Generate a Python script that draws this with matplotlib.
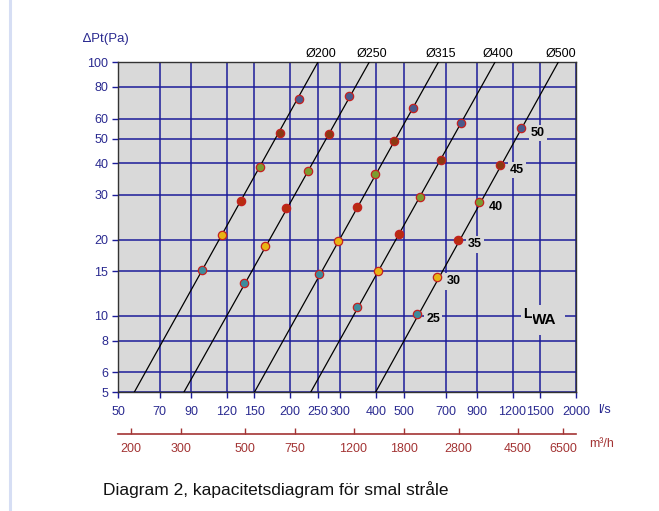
import numpy as np
import matplotlib.pyplot as plt
from matplotlib.lines import Line2D
from matplotlib.ticker import FixedLocator, NullLocator, FixedFormatter

plt.rcParams['font.family'] = ['Liberation Sans', 'DejaVu Sans']

# duct sizes and their straight lines (flow l/s at 5 Pa and at 100 Pa)
diameters = ['Ø200', 'Ø250', 'Ø315', 'Ø400', 'Ø500']
flow_at_5 = [57, 85, 150, 236, 398]
flow_at_100 = [250, 378, 660, 1041, 1733]

# sound power levels marked on every line
lwa_levels = [25, 30, 35, 40, 45, 50]
lwa_colors = ['#3d8c9c', '#e8b414', '#b82c10', '#7c9c30', '#8a3a12', '#4a5a8c']

# dot positions per duct: flow (l/s) and pressure (Pa), one per LWA level
dot_flow = [
    [98.6, 115.2, 134.6, 157.3, 183.9, 214.9],
    [138.3, 163.7, 193.9, 230.4, 272.9, 322.0],
    [252.2, 294.8, 341.9, 396.2, 461.6, 536.9],
    [343.6, 404.9, 479.3, 567.9, 672.6, 793.9],
    [554.3, 654.2, 775.0, 917.3, 1084.0, 1284.0],
]
dot_pressure = [
    [15.2, 20.8, 28.4, 38.7, 52.7, 71.9],
    [13.5, 18.9, 26.6, 37.3, 52.3, 73.5],
    [14.7, 19.8, 26.8, 36.3, 49.1, 66.1],
    [10.8, 15.1, 21.1, 29.5, 41.2, 57.7],
    [10.2, 14.3, 20.0, 28.1, 39.3, 54.9],
]

x_ticks = [50, 70, 90, 120, 150, 200, 250, 300, 400, 500, 700, 900, 1200, 1500, 2000]
y_ticks = [5, 6, 8, 10, 15, 20, 30, 40, 50, 60, 80, 100]
m3h_ticks = [200, 300, 500, 750, 1200, 1800, 2800, 4500, 6500]

navy = '#1c1c9a'
label_blue = '#2a2a90'
dark_red = '#a33434'
bg = '#d9d9d9'

fig = plt.figure(figsize=(6.59, 5.11), dpi=100)
ax = fig.add_axes([0.179, 0.2323, 0.695, 0.6457])
ax.set_facecolor(bg)
ax.set_xscale('log')
ax.set_yscale('log')
ax.set_xlim(50, 2000)
ax.set_ylim(5, 100)

ax.xaxis.set_major_locator(FixedLocator(x_ticks))
ax.xaxis.set_major_formatter(FixedFormatter([str(t) for t in x_ticks]))
ax.xaxis.set_minor_locator(NullLocator())
ax.yaxis.set_major_locator(FixedLocator(y_ticks))
ax.yaxis.set_major_formatter(FixedFormatter([str(t) for t in y_ticks]))
ax.yaxis.set_minor_locator(NullLocator())

ax.grid(True, which='major', color=navy, linewidth=1.1, zorder=1)
ax.set_axisbelow(True)
ax.tick_params(axis='both', direction='out', length=4, width=1, color=navy,
               labelcolor=label_blue, labelsize=9)
ax.tick_params(axis='x', pad=6)
ax.tick_params(axis='y', pad=3)
for s in ax.spines.values():
    s.set_color('#333333')
    s.set_linewidth(1)

# duct lines
for name, q5, q100 in zip(diameters, flow_at_5, flow_at_100):
    ax.plot([q5, q100], [5, 100], color='black', linewidth=0.9, zorder=3)
    ax.annotate(name, (q100, 100), xytext=(2, 1.5), textcoords='offset points',
                ha='center', va='bottom', fontsize=9, color='black',
                annotation_clip=False)

# LWA dots
for flows, pressures in zip(dot_flow, dot_pressure):
    for q, p, c in zip(flows, pressures, lwa_colors):
        ax.plot(q, p, 'o', markersize=6, markerfacecolor=c,
                markeredgecolor='#c42020', markeredgewidth=0.9, zorder=4)

# level labels next to the largest duct
for q, p, lvl in zip(dot_flow[-1], dot_pressure[-1], lwa_levels):
    ax.annotate(str(lvl), (q, p), xytext=(7, -3.5), textcoords='offset points',
                ha='left', va='center', fontsize=9, fontweight='bold',
                bbox=dict(facecolor=bg, edgecolor='none', pad=1.5), zorder=5)

# L_WA marker: a gray patch behind "WA" hides the grid, "L" sits on top
ax.text(0.904, 0.207, 'WA', transform=ax.transAxes, fontsize=11, fontweight='bold',
        ha='left', va='baseline',
        bbox=dict(facecolor=bg, edgecolor='none', pad=6), zorder=6)
ax.text(0.884, 0.225, 'L', transform=ax.transAxes, fontsize=10, fontweight='bold',
        ha='left', va='baseline',
        bbox=dict(facecolor=bg, edgecolor='none', pad=1), zorder=7)

# m3/h scale below
sec = ax.secondary_xaxis(-0.127, functions=(lambda q: q * 3.6, lambda m: m / 3.6))
sec.xaxis.set_major_locator(FixedLocator(m3h_ticks))
sec.xaxis.set_major_formatter(FixedFormatter([str(t) for t in m3h_ticks]))
sec.xaxis.set_minor_locator(NullLocator())
sec.spines['bottom'].set_color(dark_red)
sec.spines['bottom'].set_linewidth(1.2)
sec.tick_params(axis='x', direction='in', length=4, width=1, color=dark_red,
                labelcolor=dark_red, labelsize=9, pad=6)

fig.text(598 / 659, 1 - 410 / 511, 'l/s', color=label_blue, fontsize=9,
         ha='left', va='center')
fig.text(589 / 659, 1 - 444 / 511, 'm³/h', color=dark_red, fontsize=9,
         ha='left', va='center')
fig.text(83 / 659, 1 - 39 / 511, '∆Pt(Pa)', color=label_blue, fontsize=9.5,
         ha='left', va='center')
fig.text(103 / 659, 1 - 490 / 511, 'Diagram 2, kapacitetsdiagram för smal stråle',
         color='#111111', fontsize=12.5, ha='left', va='center')

# light blue frame edge on the left
fig.add_artist(Line2D([9.7 / 659, 9.7 / 659], [0, 1], color='#d6def4',
                      linewidth=2.2, transform=fig.transFigure))

fig.savefig('out.png', dpi=100)
